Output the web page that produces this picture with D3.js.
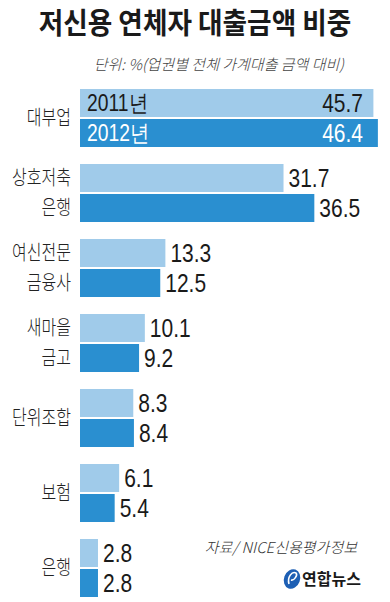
<!DOCTYPE html>
<html>
<head>
<meta charset="utf-8">
<script src="https://cdn.jsdelivr.net/npm/d3@7"></script>
<style>
  body { margin: 0; background: #fff; }
  svg { display: block; }
</style>
</head>
<body>
<div id="chart"></div>
<script>
(function() {
  var width = 390,
  height = 602;

  // data
  var categories = ["대부업", "상호저축은행", "여신전문금융사", "새마을금고", "단위조합", "보험", "은행"];
  var labelLines = [["대부업"], ["상호저축", "은행"], ["여신전문", "금융사"], ["새마을", "금고"], ["단위조합"], ["보험"], ["은행"]];
  var years = ["2011년", "2012년"];
  var values2011 = [45.7, 31.7, 13.3, 10.1, 8.3, 6.1, 2.8];
  var values2012 = [46.4, 36.5, 12.5, 9.2, 8.4, 5.4, 2.8];

  var colors = ["#a0cbea", "#2a8fd0"];
  var krFont = "'Noto Sans CJK KR', 'Noto Sans', sans-serif";
  var numFont = "'Liberation Sans', Arial, sans-serif";

  // the original uses condensed type, so squeeze text horizontally
  function squeeze(xPos, yPos, s) {
    return "translate(" + xPos + "," + yPos + ") scale(" + s + ",1)";
  }

  var svg = d3.select("#chart")
    .append("svg")
    .attr("width", width)
    .attr("height", height);

  // title + unit note
  svg.append("text")
    .attr("transform", squeeze(width / 2, 34, 0.92))
    .attr("text-anchor", "middle")
    .attr("font-family", krFont)
    .attr("font-weight", 700)
    .attr("font-size", 29)
    .attr("fill", "#1a1a1a")
    .text("저신용 연체자 대출금액 비중");

  svg.append("text")
    .attr("x", 344)
    .attr("y", 70)
    .attr("text-anchor", "end")
    .attr("font-family", krFont)
    .attr("font-weight", 300)
    .attr("font-style", "italic")
    .attr("font-size", 15)
    .attr("fill", "#444")
    .text("단위: %(업권별 전체 가계대출 금액 대비)");

  var x = d3.scaleLinear().domain([0, 50]).range([80, 401]);

  var y = d3.scaleBand()
    .domain(categories)
    .range([89, 597])
    .paddingInner(17 / 75)
    .paddingOuter(0);

  var yInner = d3.scaleBand()
    .domain(years)
    .range([0, y.bandwidth()])
    .paddingInner(2 / 30);

  var rows = categories.map(function(c, i) {
    return { cat: c, lines: labelLines[i], vals: [values2011[i], values2012[i]] };
  });

  var groups = svg.selectAll(".grp")
    .data(rows)
    .enter().append("g")
    .attr("class", "grp")
    .attr("transform", function(d) { return "translate(0," + y(d.cat) + ")"; });

  // category labels on the left
  groups.each(function(d) {
    var g = d3.select(this);
    var ys = d.lines.length === 1
      ? [y.bandwidth() / 2]
      : [yInner(years[0]) + yInner.bandwidth() / 2, yInner(years[1]) + yInner.bandwidth() / 2];
    d.lines.forEach(function(line, k) {
      g.append("text")
        .attr("transform", squeeze(71, ys[k] + 7, 0.8))
        .attr("text-anchor", "end")
        .attr("font-family", krFont)
        .attr("font-weight", 300)
        .attr("font-size", 20)
        .attr("fill", "#222")
        .text(line);
    });
  });

  var bars = groups.selectAll(".bar")
    .data(function(d, i) {
      return d.vals.map(function(v, k) { return { year: years[k], k: k, value: v, first: i === 0 }; });
    })
    .enter().append("g")
    .attr("class", "bar")
    .attr("transform", function(d) { return "translate(0," + yInner(d.year) + ")"; });

  bars.append("rect")
    .attr("x", x(0))
    .attr("y", 0)
    .attr("width", function(d) { return x(d.value) - x(0); })
    .attr("height", yInner.bandwidth())
    .attr("fill", function(d) { return colors[d.k]; });

  // values: inside the long bars, outside otherwise
  bars.append("text")
    .attr("transform", function(d) {
      return squeeze(d.value > 40 ? 363 : x(d.value) + 5, yInner.bandwidth() / 2 + 9, 0.84);
    })
    .attr("text-anchor", function(d) { return d.value > 40 ? "end" : "start"; })
    .attr("font-family", numFont)
    .attr("font-size", 25)
    .attr("fill", function(d) { return d.value > 40 && d.k === 1 ? "#fff" : "#1a1a1a"; })
    .text(function(d) { return d.value.toFixed(1); });

  // legend sits inside the first pair of bars
  bars.filter(function(d) { return d.first; })
    .append("text")
    .attr("transform", squeeze(87, yInner.bandwidth() / 2 + 8, 0.84))
    .attr("font-family", numFont)
    .attr("font-size", 23)
    .attr("fill", function(d) { return d.k === 1 ? "#fff" : "#1a1a1a"; })
    .text(function(d) { return d.year; });

  // source
  svg.append("text")
    .attr("x", 357)
    .attr("y", 553)
    .attr("text-anchor", "end")
    .attr("font-family", krFont)
    .attr("font-weight", 300)
    .attr("font-style", "italic")
    .attr("font-size", 15)
    .attr("fill", "#333")
    .text("자료/ NICE신용평가정보");

  // logo
  var logo = svg.append("g").attr("transform", "translate(292,579)");
  logo.append("ellipse")
    .attr("rx", 8)
    .attr("ry", 10)
    .attr("transform", "rotate(20)")
    .attr("fill", "#1d5fb4");
  logo.append("path")
    .attr("d", "M-3,5 C-5,-2 0,-8 4,-6 C6,-4 2,2 -1,1")
    .attr("fill", "none")
    .attr("stroke", "#fff")
    .attr("stroke-width", 1.6);
  svg.append("text")
    .attr("x", 302)
    .attr("y", 585)
    .attr("font-family", krFont)
    .attr("font-weight", 700)
    .attr("font-size", 16)
    .attr("fill", "#1a1a1a")
    .text("연합뉴스");
})();
</script>
</body>
</html>
